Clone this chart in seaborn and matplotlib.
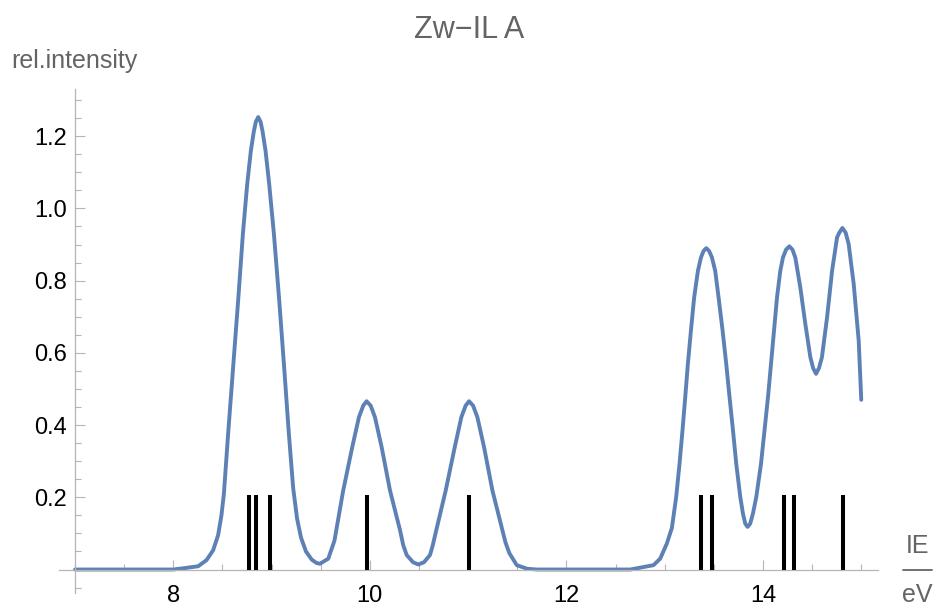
import numpy as np
import pandas as pd
import matplotlib
matplotlib.use("Agg")
import matplotlib.pyplot as plt
from matplotlib.lines import Line2D
from matplotlib.ticker import FixedLocator, MultipleLocator
import seaborn as sns

# broadened spectrum (IE in eV, relative intensity)
ie_ev = [7.00, 8.00, 8.117, 8.253, 8.338, 8.405, 8.456, 8.490, 8.515, 8.558,
         8.609, 8.660, 8.708, 8.752, 8.789, 8.820, 8.840, 8.864, 8.888, 8.908,
         8.939, 8.976, 9.024, 9.078, 9.128, 9.176, 9.220, 9.260, 9.300, 9.350,
         9.410, 9.458, 9.492, 9.577, 9.640, 9.729, 9.821, 9.889, 9.933, 9.967,
         10.008, 10.052, 10.120, 10.205, 10.307, 10.340, 10.375, 10.440, 10.493, 10.550,
         10.612, 10.640, 10.676, 10.772, 10.864, 10.931, 10.975, 11.009, 11.050, 11.094,
         11.162, 11.247, 11.348, 11.380, 11.420, 11.495, 11.600, 11.700, 12.650, 12.750,
         12.886, 12.954, 13.022, 13.073, 13.117, 13.151, 13.181, 13.209, 13.236, 13.267,
         13.300, 13.338, 13.369, 13.395, 13.423, 13.452, 13.481, 13.514, 13.548, 13.589,
         13.626, 13.660, 13.695, 13.728, 13.769, 13.796, 13.820, 13.843, 13.870, 13.898,
         13.932, 13.980, 14.016, 14.051, 14.082, 14.112, 14.143, 14.176, 14.203, 14.235,
         14.268, 14.300, 14.329, 14.380, 14.431, 14.482, 14.510, 14.540, 14.570, 14.600,
         14.652, 14.703, 14.754, 14.777, 14.808, 14.841, 14.872, 14.923, 14.974, 15.000]
rel_int = [0.0, 0.0, 0.004, 0.009, 0.026, 0.053, 0.095, 0.150, 0.210, 0.376,
           0.560, 0.745, 0.929, 1.067, 1.159, 1.214, 1.240, 1.253, 1.240, 1.214,
           1.159, 1.067, 0.929, 0.745, 0.560, 0.376, 0.225, 0.140, 0.088, 0.050,
           0.027, 0.018, 0.016, 0.030, 0.080, 0.219, 0.339, 0.422, 0.454, 0.466,
           0.454, 0.422, 0.339, 0.219, 0.109, 0.067, 0.040, 0.020, 0.014, 0.020,
           0.040, 0.067, 0.109, 0.219, 0.339, 0.422, 0.454, 0.466, 0.454, 0.422,
           0.339, 0.219, 0.109, 0.075, 0.045, 0.012, 0.002, 0.0, 0.0, 0.005,
           0.012, 0.030, 0.072, 0.115, 0.201, 0.293, 0.385, 0.477, 0.570, 0.662,
           0.754, 0.827, 0.864, 0.882, 0.890, 0.882, 0.864, 0.827, 0.754, 0.662,
           0.570, 0.477, 0.385, 0.293, 0.201, 0.155, 0.127, 0.118, 0.127, 0.155,
           0.201, 0.293, 0.385, 0.477, 0.570, 0.662, 0.754, 0.827, 0.864, 0.886,
           0.895, 0.886, 0.864, 0.781, 0.680, 0.588, 0.558, 0.542, 0.558, 0.588,
           0.698, 0.827, 0.920, 0.933, 0.946, 0.933, 0.901, 0.791, 0.634, 0.470]

# stick spectrum (computed ionisation energies)
stick_ev = [8.772, 8.840, 8.983, 9.967, 11.01, 13.37, 13.48, 14.21, 14.32, 14.81]
stick_height = 0.205

x_ticks = [8, 10, 12, 14]
y_ticks = [0.2, 0.4, 0.6, 0.8, 1.0, 1.2]

sns.set_style("white")
plt.rcParams['font.family'] = ['Liberation Sans', 'DejaVu Sans']

axis_grey = '#b5b5b5'
text_grey = '#646464'
curve_blue = '#5e81b5'

fig = plt.figure(figsize=(9.35, 6.07), dpi=100)
ax = fig.add_axes([0.0634, 0.0231, 0.8756, 0.8298])

df = pd.DataFrame({'IE': ie_ev, 'I': rel_int})
sns.lineplot(data=df, x='IE', y='I', ax=ax, color=curve_blue, linewidth=2.8,
             estimator=None, sort=False, solid_joinstyle='round',
             solid_capstyle='round')
ax.vlines(stick_ev, 0, stick_height, colors='black', linewidth=2.9, zorder=3)

ax.set_xlim(6.84, 15.17)
ax.set_ylim(-0.065, 1.33)
ax.set_xlabel('')
ax.set_ylabel('')

# Mathematica-style axes crossing at (7, 0)
for side in ['top', 'right']:
    ax.spines[side].set_visible(False)
ax.spines['left'].set_position(('data', 7))
ax.spines['bottom'].set_position(('data', 0))
for side in ['left', 'bottom']:
    ax.spines[side].set_color(axis_grey)
    ax.spines[side].set_linewidth(0.9)

ax.xaxis.set_major_locator(FixedLocator(x_ticks))
ax.xaxis.set_minor_locator(MultipleLocator(0.5))
ax.yaxis.set_major_locator(FixedLocator(y_ticks))
ax.yaxis.set_minor_locator(MultipleLocator(0.05))
ax.set_xticklabels([str(t) for t in x_ticks])
ax.set_yticklabels([f'{t:.1f}' for t in y_ticks])

ax.tick_params(axis='both', which='both', direction='in', color=axis_grey,
               width=0.8, labelsize=17, labelcolor='black')
ax.tick_params(axis='both', which='major', length=7)
ax.tick_params(axis='both', which='minor', length=4.5)
ax.tick_params(axis='x', which='both', pad=11, bottom=True)
ax.tick_params(axis='y', which='both', pad=6, left=True)

# title and axis labels placed as in the reference
fig.text(469 / 935, 1 - 37.7 / 607, 'Zw\u2212IL A', ha='center', va='baseline',
         fontsize=22, color=text_grey)
fig.text(11 / 935, 1 - 68 / 607, 'rel.intensity', ha='left', va='baseline',
         fontsize=18, color=text_grey)
fig.text(917 / 935, 1 - 553.3 / 607, 'IE', ha='center', va='baseline',
         fontsize=18, color=text_grey)
fig.text(917 / 935, 1 - 601.5 / 607, 'eV', ha='center', va='baseline',
         fontsize=18, color=text_grey)
fig.add_artist(Line2D([903 / 935, 932 / 935], [1 - 570 / 607, 1 - 570 / 607],
                      color=text_grey, linewidth=1.3))

fig.savefig('out.png', dpi=100)
